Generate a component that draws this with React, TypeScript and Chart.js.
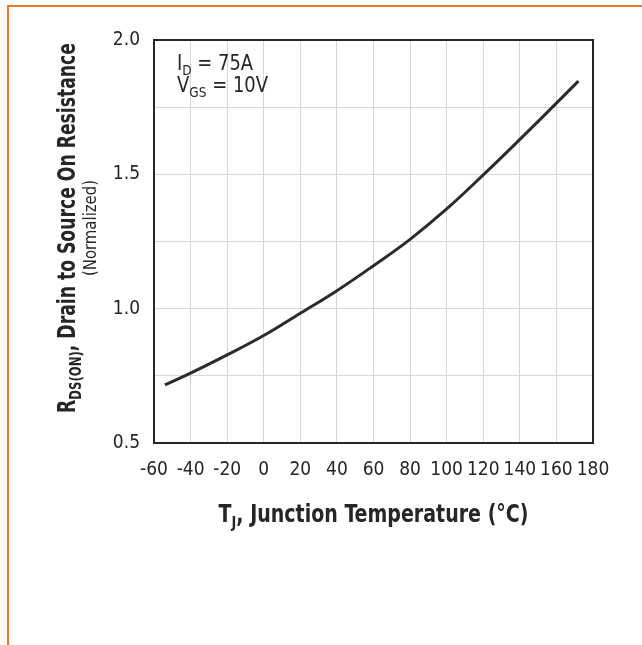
import React, { useEffect, useRef } from "react";
import { Chart, registerables } from "chart.js";

Chart.register(...registerables);

// ---- data ----
const temperatures = [-54, -40, -20, 0, 20, 40, 60, 80, 100, 120, 140, 160, 172];
const resistance = [0.716, 0.76, 0.828, 0.9, 0.983, 1.067, 1.16, 1.258, 1.371, 1.498, 1.63, 1.765, 1.847];
const xMin = -60;
const xMax = 180;
const xStep = 20;
const yMin = 0.5;
const yMax = 2.0;
const yGridStep = 0.25;
const yLabelStep = 0.5;

const xTitle = [
  { text: "T", sub: false },
  { text: "J", sub: true },
  { text: ", Junction Temperature (°C)", sub: false },
];
const yTitleMain = [
  { text: "R", sub: false },
  { text: "DS(ON)", sub: true },
  { text: ", Drain to Source On Resistance", sub: false },
];
const yTitleSecond = [{ text: "(Normalized)", sub: false }];
const noteLine1 = [
  { text: "I", sub: false },
  { text: "D", sub: true },
  { text: " = 75A", sub: false },
];
const noteLine2 = [
  { text: "V", sub: false },
  { text: "GS", sub: true },
  { text: " = 10V", sub: false },
];

const FONT = '"Liberation Sans Narrow", "DejaVu Sans Condensed", "Arial Narrow", sans-serif';
const INK = "#262626";

type Seg = { text: string; sub: boolean };

function measureRich(ctx: CanvasRenderingContext2D, segs: Seg[], weight: string, size: number) {
  const subSize = size * 0.68;
  return segs.map((s) => {
    ctx.font = `${weight} ${s.sub ? subSize : size}px ${FONT}`;
    return ctx.measureText(s.text).width;
  });
}

// draws text at a given font size, compressed horizontally to a target width (condensed look)
function drawRich(
  ctx: CanvasRenderingContext2D,
  segs: Seg[],
  x: number,
  y: number,
  weight: string,
  size: number,
  align: "left" | "center",
  fitWidth: number
) {
  const widths = measureRich(ctx, segs, weight, size);
  const total = widths.reduce((a, b) => a + b, 0);
  const k = fitWidth / total;
  const subSize = size * 0.68;
  ctx.save();
  ctx.translate(align === "center" ? x - fitWidth / 2 : x, y);
  ctx.scale(k, 1);
  ctx.textAlign = "left";
  ctx.textBaseline = "alphabetic";
  let cx = 0;
  segs.forEach((s, i) => {
    ctx.font = `${weight} ${s.sub ? subSize : size}px ${FONT}`;
    ctx.fillText(s.text, cx, s.sub ? size * 0.24 : 0);
    cx += widths[i];
  });
  ctx.restore();
}

const decorPlugin = {
  id: "decor",
  afterDraw(chart: any) {
    const ctx: CanvasRenderingContext2D = chart.ctx;
    const a = chart.chartArea;
    ctx.save();
    // frame
    ctx.strokeStyle = INK;
    ctx.lineWidth = 2;
    ctx.strokeRect(a.left, a.top, a.right - a.left, a.bottom - a.top);

    ctx.fillStyle = INK;
    // x title
    drawRich(ctx, xTitle, (a.left + a.right) / 2, a.bottom + 79, "bold", 24, "center", 310);

    // notes
    drawRich(ctx, noteLine1, a.left + 23, a.top + 30, "normal", 21, "left", 76);
    drawRich(ctx, noteLine2, a.left + 23, a.top + 52, "normal", 21, "left", 91);

    // y title (rotated)
    const cy = 228;
    ctx.save();
    ctx.translate(75, cy);
    ctx.rotate(-Math.PI / 2);
    drawRich(ctx, yTitleMain, 0, 0, "bold", 24, "center", 370);
    ctx.restore();
    ctx.save();
    ctx.translate(96, cy);
    ctx.rotate(-Math.PI / 2);
    drawRich(ctx, yTitleSecond, 0, 0, "normal", 18, "center", 96);
    ctx.restore();

    ctx.restore();
  },
};

export default function App() {
  const ref = useRef<HTMLCanvasElement | null>(null);

  useEffect(() => {
    if (!ref.current) return;
    const chart = new Chart(ref.current, {
      type: "line",
      data: {
        datasets: [
          {
            data: temperatures.map((t, i) => ({ x: t, y: resistance[i] })),
            borderColor: "#2b2b2b",
            borderWidth: 3,
            pointRadius: 0,
            fill: false,
            tension: 0.4,
          },
        ],
      },
      options: {
        animation: false,
        responsive: true,
        maintainAspectRatio: false,
        layout: { padding: { left: 0, top: 40, right: 49, bottom: 102 } },
        plugins: { legend: { display: false }, tooltip: { enabled: false } },
        scales: {
          x: {
            type: "linear",
            min: xMin,
            max: xMax,
            afterFit: (s: any) => {
              s.height = 100;
            },
            border: { display: false },
            grid: { color: "#d6d6d6", lineWidth: 1, drawTicks: false },
            ticks: {
              stepSize: xStep,
              autoSkip: false,
              maxRotation: 0,
              padding: 16,
              color: INK,
              font: { family: FONT, size: 19 },
              callback: (v: any) => String(v),
            },
          },
          y: {
            type: "linear",
            min: yMin,
            max: yMax,
            afterFit: (s: any) => {
              s.width = 154;
            },
            border: { display: false },
            grid: { color: "#d6d6d6", lineWidth: 1, drawTicks: false },
            ticks: {
              stepSize: yGridStep,
              autoSkip: false,
              padding: 14,
              color: INK,
              font: { family: FONT, size: 19 },
              callback: (v: any) => {
                const r = v / yLabelStep;
                return Math.abs(r - Math.round(r)) < 1e-6 ? Number(v).toFixed(1) : "";
              },
            },
          },
        },
      },
      plugins: [decorPlugin],
    } as any);
    return () => chart.destroy();
  }, []);

  return (
    <div style={{ position: "absolute", left: 0, top: 0, width: 642, height: 645, background: "#fff" }}>
      <div
        style={{
          position: "absolute",
          left: 7,
          top: 5,
          width: 640,
          height: 645,
          borderTop: "2px solid #e8782e",
          borderLeft: "2px solid #e8782e",
        }}
      />
      <canvas ref={ref} style={{ position: "absolute", left: 0, top: 0 }} />
    </div>
  );
}
